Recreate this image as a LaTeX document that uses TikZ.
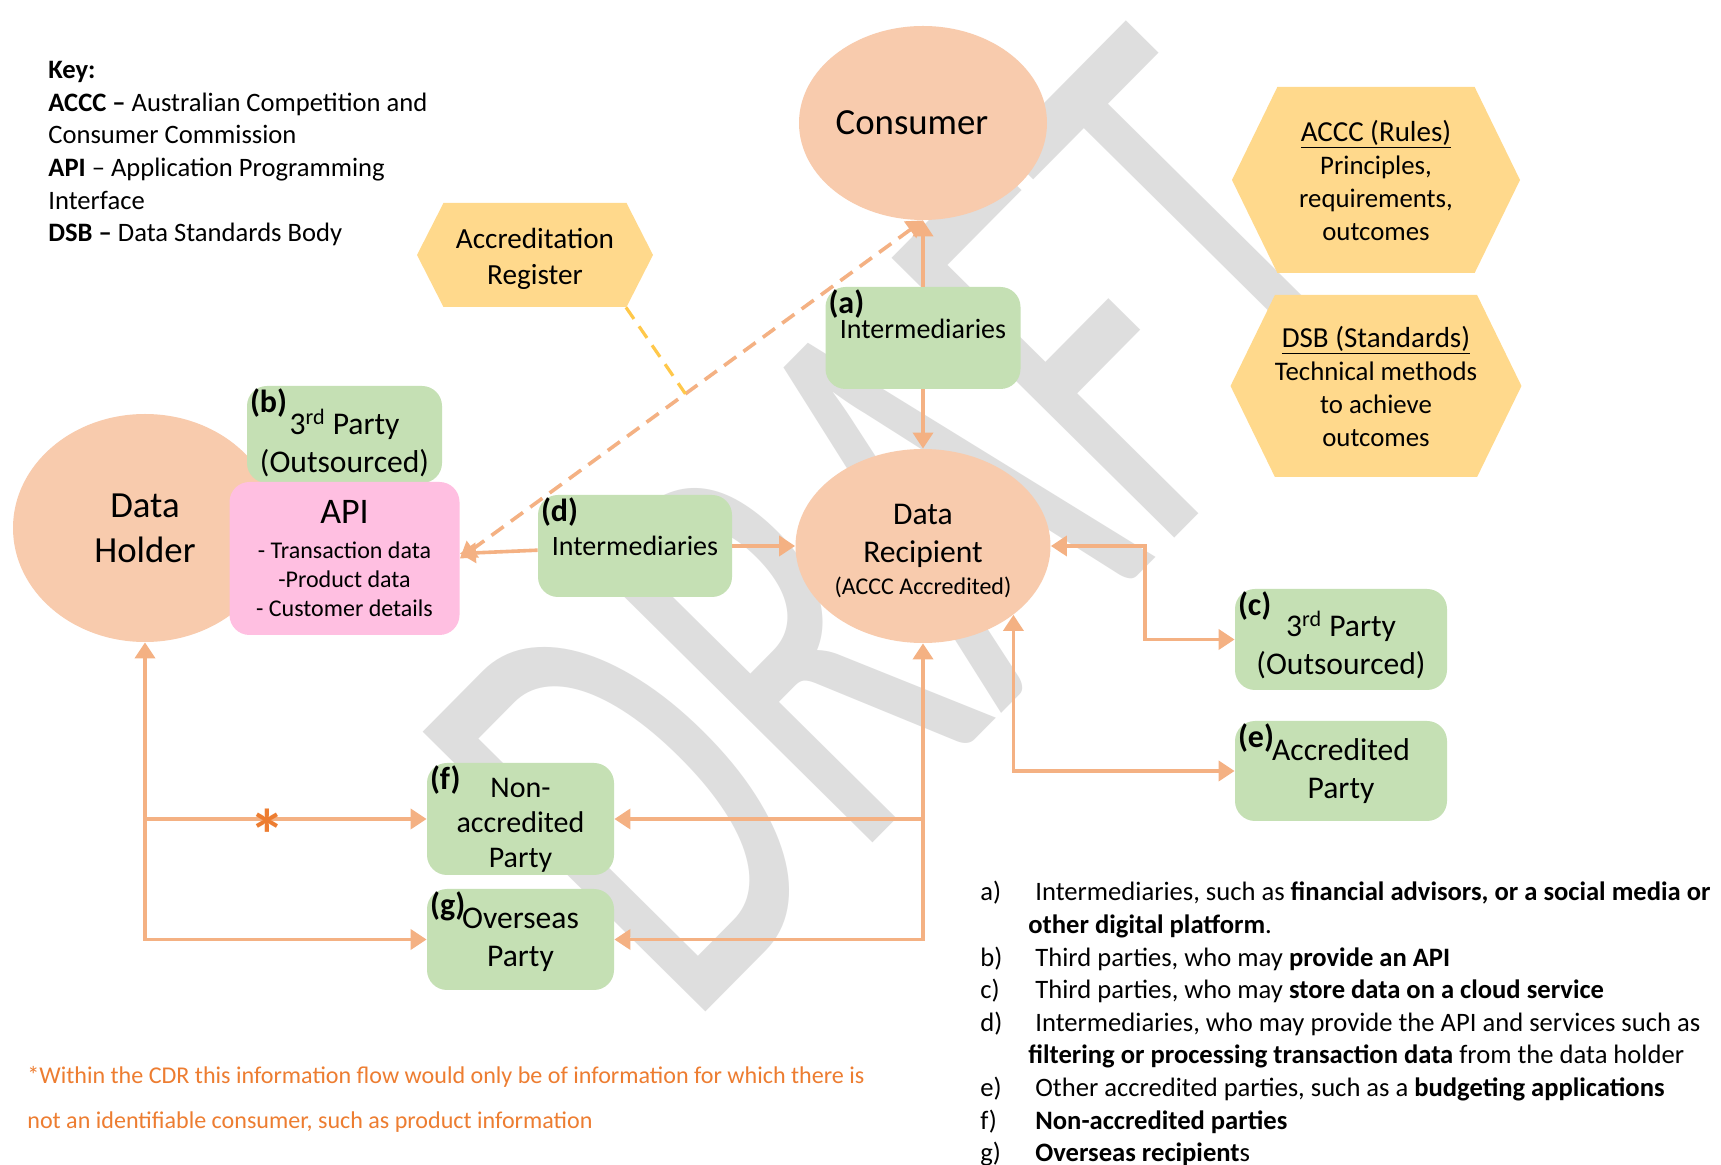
\documentclass[tikz,border=0pt]{standalone}
\usepackage{fontspec}
\setmainfont{Carlito}
\usepackage{xcolor}
\usetikzlibrary{positioning,calc,arrows.meta,shapes.geometric,shapes.symbols}

\definecolor{peach}{HTML}{F8CBAD}
\definecolor{partygreen}{HTML}{C5E0B4}
\definecolor{apipink}{HTML}{FFBFE1}
\definecolor{hexgold}{HTML}{FFD98C}
\definecolor{flowcol}{HTML}{F4B183}
\definecolor{regcol}{HTML}{FFC84A}
\definecolor{notecol}{HTML}{ED7D31}
\definecolor{wmgray}{HTML}{DEDEDE}

\begin{document}
\begin{tikzpicture}[x=0.5pt,y=-0.5pt,on grid,>={Triangle[length=8pt,width=10pt]},
   blob/.style={ellipse,fill=peach,inner sep=0pt,align=center},
   party/.style={rectangle,rounded corners=10pt,fill=partygreen,inner sep=0pt,align=center,
      minimum width=97pt,font=\fontsize{15.8}{19}\selectfont},
   tag/.style={anchor=north west,inner sep=1.5pt,font=\bfseries\fontsize{16}{16}\selectfont},
   hexa/.style={signal,signal to=west and east,fill=hexgold,inner sep=0pt,align=center},
   flow/.style={draw=flowcol,line width=1.8pt},
   link/.style={flow,dash pattern=on 7.5pt off 4.5pt},
   reglink/.style={draw=regcol,line width=1.6pt,dash pattern=on 7pt off 4.5pt},
   plain/.style={inner sep=0pt,align=left,anchor=north west}]
   \useasboundingbox[fill=white] (0,0) rectangle (1721,1165);
   \node[anchor=base west,inner sep=0pt,rotate=45.3,xscale=0.62,text=wmgray,
      font=\fontsize{310}{310}\selectfont] (draft) at (687,1031) {DRAFT};

   \node[blob,minimum width=124pt,minimum height=97pt,font=\fontsize{18.4}{22}\selectfont]
      (consumer) at (923,123) {Consumer\hspace*{11pt}};
   \node[party,minimum width=97.5pt,minimum height=51pt,text depth=9pt,font=\fontsize{14}{17}\selectfont,
      label={[tag]north west:(a)}] (a) [below=107.5pt of consumer] {Intermediaries};
   \node[blob,minimum width=127.5pt,minimum height=97pt,font=\fontsize{15.8}{19}\selectfont]
      (dr) [below=104pt of a] {\rule{0pt}{15.5pt}Data\\Recipient\\[-3pt]{\fontsize{12}{14}\selectfont(ACCC Accredited)}};
   \node[party,minimum height=51pt,font=\fontsize{14}{17}\selectfont,
      label={[tag]north west:(d)}] (d) [left=144pt of dr] {Intermediaries};
   \node[party,minimum width=106pt,minimum height=50.5pt,text height=37.4pt,
      label={[tag]north west:(c)}] (c) [below right=46.75pt and 209pt of dr] {3\textsuperscript{rd} Party\\(Outsourced)};
   \node[party,minimum width=106pt,minimum height=50pt,
      label={[tag]north west:(e)}] (e) [below=65.75pt of c] {Accredited\\Party};
   \node[party,minimum width=93.5pt,minimum height=56pt,font=\fontsize{15}{17.5}\selectfont,
      label={[tag]north west:(f)}] (f) at (520.5,819) {\rule{0pt}{16.1pt}Non-\\accredited\\Party};
   \node[party,minimum width=93.5pt,minimum height=50.5pt,
      label={[tag]north west:(g)}] (g) [below=60.25pt of f] {Overseas\\Party};

   \node[blob,minimum width=132pt,minimum height=114pt,font=\fontsize{18.4}{22.5}\selectfont]
      (dh) at (145,528) {Data\\Holder};
   \node[party,minimum width=97.5pt,minimum height=48.5pt,text height=40.5pt,
      label={[tag]north west:(b)}] (b) at (344.5,434.5) {3\textsuperscript{rd} Party\\(Outsourced)};
   \node[rectangle,rounded corners=10pt,fill=apipink,inner sep=0pt,align=center,
      minimum width=115pt,minimum height=76.5pt,font=\fontsize{12}{14.5}\selectfont]
      (api) [below=62pt of b] {{\fontsize{18}{18}\selectfont API}\\[3pt]- Transaction data\\-Product data\\- Customer details};

   \node[hexa,minimum width=118pt,minimum height=52pt,signal pointer angle=126,
      font=\fontsize{14.6}{18}\selectfont] (reg) at (535,255) {\rule{0pt}{14.4pt}Accreditation\\Register};
   \node[hexa,minimum width=144pt,minimum height=93pt,signal pointer angle=128,
      font=\fontsize{13.4}{16.5}\selectfont] (rules) at (1376,180)
      {{\fontsize{14.5}{16.5}\selectfont\underline{ACCC (Rules)}}\\Principles,\\requirements,\\outcomes};
   \node[hexa,minimum width=144pt,minimum height=91pt,signal pointer angle=128,
      font=\fontsize{13.4}{16.5}\selectfont] (dsb) [below=103pt of rules]
      {{\fontsize{14.5}{16.5}\selectfont\underline{DSB (Standards)}}\\Technical methods\\to achieve\\outcomes};

   \draw[flow,->] (a) -- (consumer);
   \draw[flow,->] (a) -- (dr);
   \draw[flow,->] (d) -- (api);
   \draw[flow,->] (d) -- (dr);
   \draw[flow,<->] (dr.east) -- ++(94,0) |- (c.west);
   \draw[flow,<->] (dr.south east) |- (e.west);
   \draw[flow,<->] (dr.south) |- (g.east);
   \draw[flow,->] (dr.south |- f.east) -- (f.east);
   \draw[flow,<->] (dh.south) |- (g.west);
   \draw[flow,->] (dh.south |- f.west) -- (f.west)
      node[pos=0.433,yshift=-8pt,text=notecol,inner sep=0pt,font=\bfseries\fontsize{36}{36}\selectfont] (star) {*};
   \draw[link,<->] (api.east) -- (consumer.south);
   \coordinate (regjoin) at ($(api.east)!0.487!(consumer.south)$);
   \draw[reglink] ([xshift=45.5pt]reg.south) -- (regjoin);

   \node[plain,font=\fontsize{13.3}{16.3}\selectfont] (key) at (48,61)
      {\textbf{Key:}\\\textbf{ACCC –} Australian Competition and\\Consumer Commission\\
       \textbf{API} – Application Programming\\Interface\\\textbf{DSB –} Data Standards Body};
   \node[plain,font=\fontsize{13.3}{16.3}\selectfont] (notes) at (980,881) {%
      \makebox[27.5pt][l]{a)}Intermediaries, such as \textbf{financial advisors, or a social media or}\\
      \hspace*{24pt}\textbf{other digital platform}.\\
      \makebox[27.5pt][l]{b)}Third parties, who may \textbf{provide an API}\\
      \makebox[27.5pt][l]{c)}Third parties, who may \textbf{store data on a cloud service}\\
      \makebox[27.5pt][l]{d)}Intermediaries, who may provide the API and services such as\\
      \hspace*{24pt}\textbf{filtering or processing transaction data} from the data holder\\
      \makebox[27.5pt][l]{e)}Other accredited parties, such as a \textbf{budgeting applications}\\
      \makebox[27.5pt][l]{f)}\textbf{Non-accredited parties}\\
      \makebox[27.5pt][l]{g)}\textbf{Overseas recipient}s};
   \node[plain,text=notecol,font=\fontsize{12.04}{22.5}\selectfont] (foot) at (27,1066)
      {*Within the CDR this information flow would only be of information for which there is\\
       not an identifiable consumer, such as product information};
\end{tikzpicture}
\end{document}
